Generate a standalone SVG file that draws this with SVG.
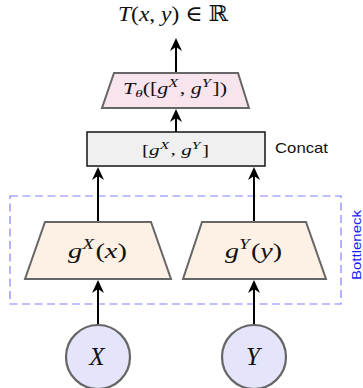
<svg xmlns="http://www.w3.org/2000/svg" width="363" height="388" viewBox="0 0 363 388">
<defs>
<style>
.math{font-family:"Liberation Serif","DejaVu Serif",serif;font-style:italic;fill:#111}
.rm{font-family:"Liberation Serif","DejaVu Serif",serif;font-style:normal;fill:#111}
.trap{stroke:#666;stroke-width:2}
.edge{stroke:#000;stroke-width:2;fill:none;marker-end:url(#ah)}
</style>
<marker id="ah" viewBox="0 0 13 12" refX="11" refY="6" markerWidth="13" markerHeight="12" markerUnits="userSpaceOnUse" orient="auto">
<path d="M0,0 L13,6 L0,12 L4,6 Z" fill="#000"/>
</marker>
</defs>
<rect width="363" height="388" fill="#fff"/>
<g id="bottleneck">
<rect x="10" y="196" width="331" height="108" fill="none" stroke="#8080ff" stroke-width="1.2" stroke-dasharray="8,4.5"/>
<text transform="translate(361,245) rotate(-90)" text-anchor="middle" font-family="Liberation Sans,Arial,sans-serif" font-size="13" fill="#1a1aff" textLength="70" lengthAdjust="spacingAndGlyphs">Bottleneck</text>
</g>
<g id="connectors">
<line class="edge" x1="176" y1="72" x2="176" y2="40"/>
<line class="edge" x1="176" y1="132" x2="176" y2="111"/>
<line class="edge" x1="98" y1="222" x2="98" y2="169"/>
<line class="edge" x1="254" y1="222" x2="254" y2="169"/>
<line class="edge" x1="98" y1="325" x2="98" y2="282"/>
<line class="edge" x1="254" y1="325" x2="254" y2="282"/>
</g>
<g id="output">
<text x="118" y="21" font-size="22" textLength="110" lengthAdjust="spacingAndGlyphs"><tspan class="math">T</tspan><tspan class="rm">(</tspan><tspan class="math">x</tspan><tspan class="rm">, </tspan><tspan class="math">y</tspan><tspan class="rm">) ∈ ℝ</tspan></text>
</g>
<g id="T_theta">
<polygon class="trap" points="114,73 238,73 249,108 102,108" fill="#f8e4ec"/>
<text x="123" y="94" font-size="16" textLength="104" lengthAdjust="spacingAndGlyphs"><tspan class="math">T</tspan><tspan class="math" font-size="11" dy="3">θ</tspan><tspan class="rm" dy="-3">([</tspan><tspan class="math">g</tspan><tspan class="math" font-size="12" dy="-7">X</tspan><tspan class="rm" dy="7" dx="1">, </tspan><tspan class="math">g</tspan><tspan class="math" font-size="12" dy="-7">Y</tspan><tspan class="rm" dy="7" dx="1">])</tspan></text>
</g>
<g id="concat">
<rect x="87" y="132" width="178" height="34" fill="#f0f0f0" stroke="#222" stroke-width="1.6"/>
<text x="142" y="155" font-size="15" textLength="67" lengthAdjust="spacingAndGlyphs"><tspan class="rm">[</tspan><tspan class="math">g</tspan><tspan class="math" font-size="11" dy="-6">X</tspan><tspan class="rm" dy="6" dx="1">, </tspan><tspan class="math">g</tspan><tspan class="math" font-size="11" dy="-6">Y</tspan><tspan class="rm" dy="6" dx="1">]</tspan></text>
<text x="275" y="153" font-family="Liberation Sans,Arial,sans-serif" font-size="15" fill="#111" textLength="53" lengthAdjust="spacingAndGlyphs">Concat</text>
</g>
<g id="gX">
<polygon class="trap" points="45,222 151,222 171,279 25,279" fill="#fdf0e4"/>
<text x="68" y="258" font-size="22" textLength="59" lengthAdjust="spacingAndGlyphs"><tspan class="math">g</tspan><tspan class="math" font-size="15" dy="-9">X</tspan><tspan class="rm" dy="9" dx="1">(</tspan><tspan class="math">x</tspan><tspan class="rm">)</tspan></text>
</g>
<g id="gY">
<polygon class="trap" points="202,222 306,222 326,279 183,279" fill="#fdf0e4"/>
<text x="225" y="258" font-size="22" textLength="57" lengthAdjust="spacingAndGlyphs"><tspan class="math">g</tspan><tspan class="math" font-size="15" dy="-9">Y</tspan><tspan class="rm" dy="9" dx="1">(</tspan><tspan class="math">y</tspan><tspan class="rm">)</tspan></text>
</g>
<g id="X">
<circle cx="98" cy="357" r="32" fill="#e4e4fa" stroke="#666" stroke-width="2.2"/>
<text x="97" y="365" text-anchor="middle" class="math" font-size="25">X</text>
</g>
<g id="Y">
<circle cx="254" cy="357" r="32" fill="#e4e4fa" stroke="#666" stroke-width="2.2"/>
<text x="253" y="365" text-anchor="middle" class="math" font-size="25">Y</text>
</g>
</svg>
